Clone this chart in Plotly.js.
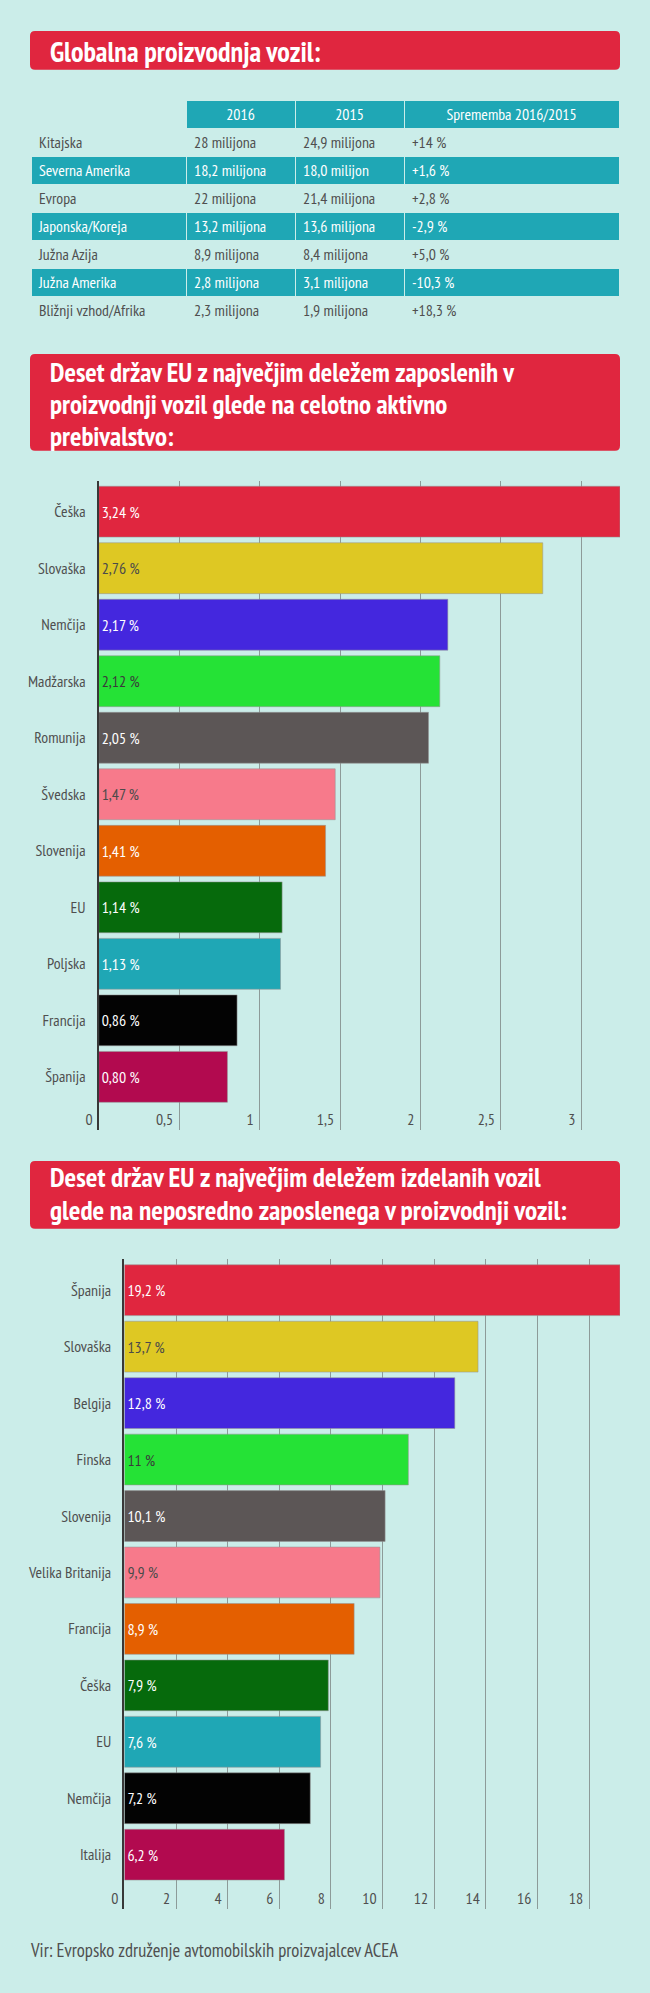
<!DOCTYPE html>
<html><head><meta charset="utf-8">
<script src="https://cdn.plot.ly/plotly-3.0.1.min.js"></script>
<style>html,body{margin:0;padding:0;background:#CBEDE9;}#chart{width:650px;height:1993px;}</style>
</head><body><div id="chart"></div>
<script>
// ---------- data ----------
const tableHeader = ['', '2016', '2015', 'Sprememba 2016/2015'];
const tableRegions = ['Kitajska','Severna Amerika','Evropa','Japonska/Koreja','Južna Azija','Južna Amerika','Bližnji vzhod/Afrika'];
const prod2016 = ['28 milijona','18,2 milijona','22 milijona','13,2 milijona','8,9 milijona','2,8 milijona','2,3 milijona'];
const prod2015 = ['24,9 milijona','18,0 milijon','21,4 milijona','13,6 milijona','8,4 milijona','3,1 milijona','1,9 milijona'];
const change = ['+14 %','+1,6 %','+2,8 %','-2,9 %','+5,0 %','-10,3 %','+18,3 %'];

const empCountries = ['Češka','Slovaška','Nemčija','Madžarska','Romunija','Švedska','Slovenija','EU','Poljska','Francija','Španija'];
const empShare = [3.24,2.76,2.17,2.12,2.05,1.47,1.41,1.14,1.13,0.86,0.80];

const vehCountries = ['Španija','Slovaška','Belgija','Finska','Slovenija','Velika Britanija','Francija','Češka','EU','Nemčija','Italija'];
const vehPerEmployee = [19.2,13.7,12.8,11,10.1,9.9,8.9,7.9,7.6,7.2,6.2];

const title1 = ['Globalna proizvodnja vozil:'];
const title2 = ['Deset držav EU z največjim deležem zaposlenih v','proizvodnji vozil glede na celotno aktivno','prebivalstvo:'];
const title3 = ['Deset držav EU z največjim deležem izdelanih vozil','glede na neposredno zaposlenega v proizvodnji vozil:'];
const sourceText = 'Vir: Evropsko združenje avtomobilskih proizvajalcev ACEA';

// ---------- style ----------
const BG = '#CBEDE9', TEAL = '#1FA7B5', RED = '#E0263F', GRAY = '#4f4f4f';
const palette = ['#E0263F','#DEC823','#4427DE','#25E236','#5C5656','#F77A8B','#E45F00','#066A0C','#1FA7B5','#030303','#B20A4F'];
const labelColors = ['#fff','#4a4a4a','#fff','#3a3a3a','#fff','#4a4a4a','#fff','#fff','#fff','#fff','#fff'];
const FONT = "'PT Sans Narrow','Liberation Sans Narrow','Arial Narrow','DejaVu Sans Condensed',sans-serif";
const FS = 15.5;
const W = 650, H = 1993;
const px = x => x / W, py = y => 1 - y / H;

function roundRect(x0, y0, x1, y1, r) {
  const P = (x, y) => px(x) + ',' + py(y);
  return 'M' + P(x0 + r, y0) + ' L' + P(x1 - r, y0) + ' Q' + P(x1, y0) + ' ' + P(x1, y0 + r) +
    ' L' + P(x1, y1 - r) + ' Q' + P(x1, y1) + ' ' + P(x1 - r, y1) +
    ' L' + P(x0 + r, y1) + ' Q' + P(x0, y1) + ' ' + P(x0, y1 - r) +
    ' L' + P(x0, y0 + r) + ' Q' + P(x0, y0) + ' ' + P(x0 + r, y0) + ' Z';
}

// table fills
const rowFill = tableRegions.map((_, i) => i % 2 === 1 ? TEAL : BG);
const rowFont = tableRegions.map((_, i) => i % 2 === 1 ? '#ffffff' : GRAY);

const traces = [
  {
    type: 'table',
    domain: {x: [px(31), px(619)], y: [py(324), py(100)]},
    columnwidth: [155, 109, 109, 215],
    header: {
      values: tableHeader.map(h => [h]),
      fill: {color: [BG, TEAL, TEAL, TEAL]},
      line: {color: BG, width: 1},
      align: 'center',
      height: 28,
      font: {family: FONT, size: FS, color: '#ffffff'}
    },
    cells: {
      values: [tableRegions, prod2016, prod2015, change],
      fill: {color: [rowFill, rowFill, rowFill, rowFill]},
      line: {color: BG, width: 1},
      align: 'left',
      height: 28,
      font: {family: FONT, size: FS, color: [rowFont, rowFont, rowFont, rowFont]}
    }
  },
  {
    type: 'bar', orientation: 'h', xaxis: 'x', yaxis: 'y',
    x: empShare, y: empCountries,
    marker: {color: palette, line: {color: 'rgba(150,150,150,0.55)', width: 1}},
    text: empShare.map(v => v.toFixed(2).replace('.', ',') + ' %'),
    textposition: 'inside', insidetextanchor: 'start', textangle: 0,
    textfont: {family: FONT, size: FS, color: labelColors},
    hoverinfo: 'skip'
  },
  {
    type: 'bar', orientation: 'h', xaxis: 'x2', yaxis: 'y2',
    x: vehPerEmployee, y: vehCountries,
    marker: {color: palette, line: {color: 'rgba(150,150,150,0.55)', width: 1}},
    text: vehPerEmployee.map(v => String(v).replace('.', ',') + ' %'),
    textposition: 'inside', insidetextanchor: 'start', textangle: 0,
    textfont: {family: FONT, size: FS, color: labelColors},
    hoverinfo: 'skip'
  }
];

const xCommon = {
  showgrid: true, gridcolor: '#8d9b99', gridwidth: 1, zeroline: false, showline: false,
  ticks: '', ticklabelposition: 'inside left', ticklabeloverflow: 'allow',
  ticklabelshift: -6, ticklabelstandoff: -4,
  tickfont: {family: FONT, size: FS, color: GRAY}, fixedrange: true
};
const yCommon = {
  type: 'category', showgrid: false, zeroline: false, showline: true,
  linecolor: '#383838', linewidth: 2, ticks: '', ticklabelstandoff: 8,
  tickfont: {family: FONT, size: FS, color: GRAY}, fixedrange: true
};

// Titles: one text per box; the outer font size sets the line pitch (1.3em),
// the inner span sets the glyph size, calibrated afterwards to widths measured on the reference
// (capped so that consecutive lines never overlap).
function spanText(lines, size) {
  return lines.map(l => '<span style="font-size:' + size.toFixed(2) + 'px">' + l + '</span>').join('<br>');
}
const annotations = [];
const groups = [];
function addTitle(lines, x, yCenter, size, target, pitch) {
  const multi = lines.length > 1;
  groups.push({idx: annotations.length, lines: lines, size: size, target: target, span: multi,
               cap: multi ? pitch / 1.19 : 40});
  annotations.push({
    xref: 'paper', yref: 'paper', x: px(x), y: py(yCenter), xanchor: 'left', yanchor: 'middle', align: 'left',
    text: multi ? spanText(lines, size) : lines[0], showarrow: false, borderpad: 0, borderwidth: 0,
    font: {family: FONT, size: multi ? pitch / 1.3 : size, color: '#ffffff', weight: 700}
  });
}
addTitle(title1, 50, 51, 27, 270.7, null);
addTitle(title2, 50, 403.8, 26, 484, 32);
addTitle(title3, 50, 1193.3, 26, 533, 32.5);
groups.push({idx: annotations.length, lines: [sourceText], size: 17, target: 368.5, span: false, cap: 40});
annotations.push({
  xref: 'paper', yref: 'paper', x: px(30), y: py(1950), xanchor: 'left', yanchor: 'middle',
  text: sourceText, showarrow: false, borderpad: 0, borderwidth: 0,
  font: {family: FONT, size: 17, color: GRAY}
});

const layout = {
  width: W, height: H, margin: {l: 0, r: 0, t: 0, b: 0},
  paper_bgcolor: BG, plot_bgcolor: 'rgba(0,0,0,0)',
  separators: ',.', showlegend: false, bargap: 0.1,
  font: {family: FONT, color: GRAY},
  xaxis: Object.assign({}, xCommon, {domain: [px(98.7), px(620)], anchor: 'y', range: [0, 3.24], tick0: 0, dtick: 0.5}),
  yaxis: Object.assign({}, yCommon, {domain: [py(1130), py(481)], anchor: 'x', range: [10.94, -0.543]}),
  xaxis2: Object.assign({}, xCommon, {domain: [px(124.4), px(620)], anchor: 'y2', range: [0, 19.2], tick0: 0, dtick: 2}),
  yaxis2: Object.assign({}, yCommon, {domain: [py(1908.7), py(1259)], anchor: 'x2', range: [10.957, -0.553]}),
  shapes: [
    {type: 'path', xref: 'paper', yref: 'paper', path: roundRect(30, 31, 620, 69.7, 5), fillcolor: RED, line: {width: 0}, layer: 'below'},
    {type: 'path', xref: 'paper', yref: 'paper', path: roundRect(30, 354, 620, 450.7, 5), fillcolor: RED, line: {width: 0}, layer: 'below'},
    {type: 'path', xref: 'paper', yref: 'paper', path: roundRect(30, 1161, 620, 1228.7, 5), fillcolor: RED, line: {width: 0}, layer: 'below'}
  ],
  annotations: annotations
};

Plotly.newPlot('chart', traces, layout, {displayModeBar: false, staticPlot: true}).then(function (gd) {
  const upd = {};
  groups.forEach(g => {
    const el = gd.querySelector('.annotation[data-index="' + g.idx + '"] .annotation-text');
    if (!el) return;
    const w = el.getBBox().width;
    if (!(w > 0)) return;
    const s = Math.max(14, Math.min(g.cap, g.size * g.target / w));
    if (g.span) upd['annotations[' + g.idx + '].text'] = spanText(g.lines, s);
    else upd['annotations[' + g.idx + '].font.size'] = +s.toFixed(2);
  });
  let fs = FS;
  const ref = Array.from(gd.querySelectorAll('.y2tick text')).find(t => t.textContent === 'Velika Britanija');
  if (ref) {
    const w = ref.getBBox().width;
    if (w > 0) fs = Math.max(13.5, Math.min(17, FS * 83.3 / w));
  }
  ['xaxis', 'yaxis', 'xaxis2', 'yaxis2'].forEach(a => { upd[a + '.tickfont.size'] = fs; });
  return Plotly.relayout(gd, upd).then(() =>
    Plotly.restyle(gd, {'header.font.size': fs, 'cells.font.size': fs}, [0])).then(() =>
    Plotly.restyle(gd, {'textfont.size': fs}, [1, 2]));
});
</script>
</body></html>
